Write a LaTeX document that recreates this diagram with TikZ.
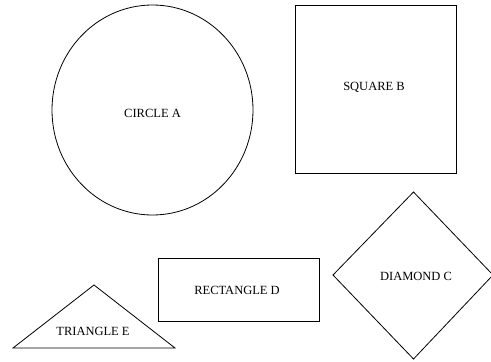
\documentclass[tikz,border=0pt]{standalone}
\usepackage{fontspec}
\setmainfont{Liberation Serif}
\begin{document}
\begin{tikzpicture}[x=1pt,y=-1pt,
  shapeline/.style={draw=black,line width=0.8pt},
  lbl/.style={font=\fontsize{12.5}{14}\selectfont,inner sep=0pt,anchor=center}]
\useasboundingbox (0,0) rectangle (491,362);
\fill[white] (0,0) rectangle (491,362);
% circle A
\draw[shapeline] (152.5,110) ellipse [x radius=100.5, y radius=105];
\node[lbl] (ta) at (152.5,113) {CIRCLE A};
% square B
\draw[shapeline] (295,5) rectangle (456,173);
\node[lbl] (tb) at (374,87) {SQUARE B};
% diamond C
\draw[shapeline] (413.5,192) -- (493,275) -- (413.5,359) -- (333,275) -- cycle;
\node[lbl] (tc) at (416,276) {DIAMOND C};
% rectangle D
\draw[shapeline] (158,258) rectangle (319,321);
\node[lbl] (td) at (237,290) {RECTANGLE D};
% triangle E
\draw[shapeline] (13,348) -- (94,285) -- (175,348) -- cycle;
\node[lbl] (te) at (93,331) {TRIANGLE E};
\end{tikzpicture}
\end{document}
